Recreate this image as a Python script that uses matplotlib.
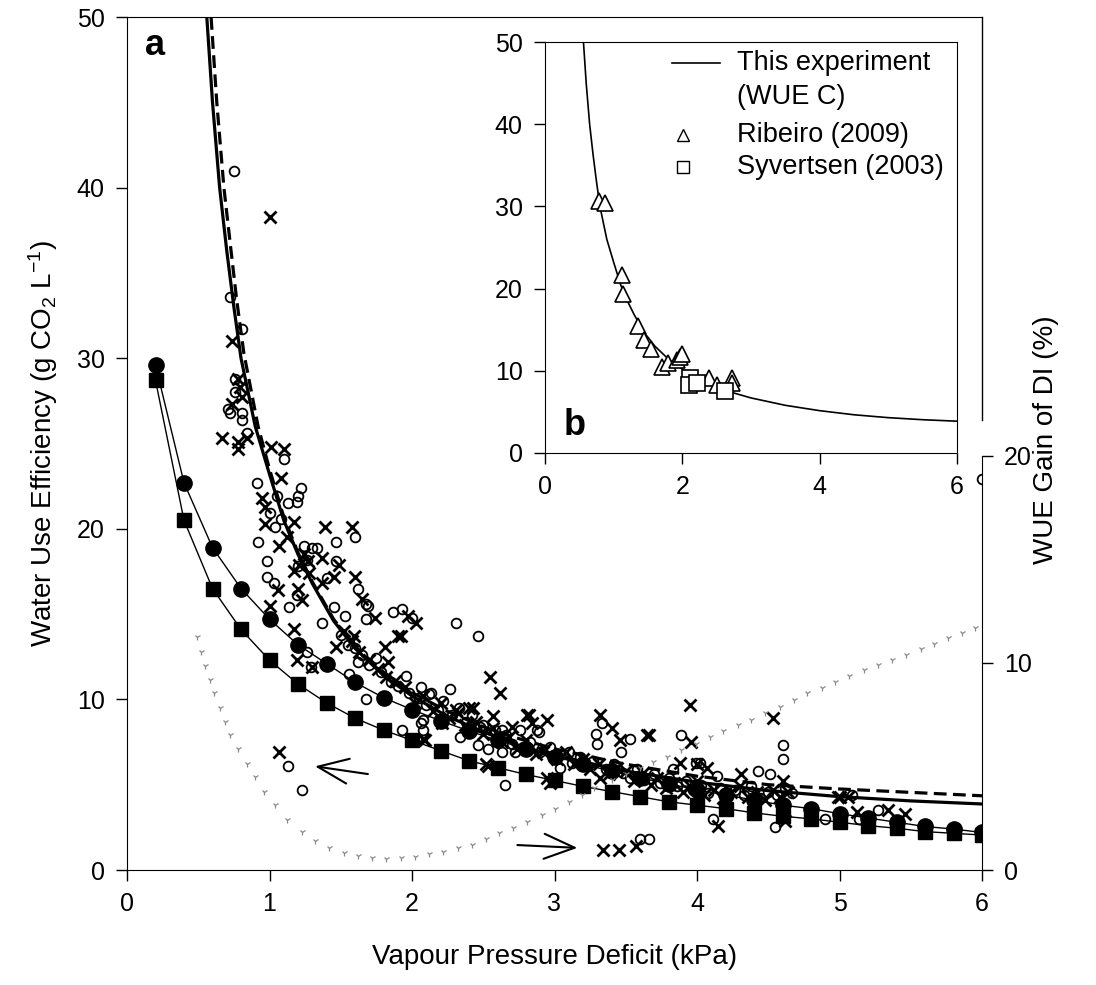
import numpy as np
import matplotlib.pyplot as plt
from matplotlib.lines import Line2D

plt.rcParams['font.family'] = ['Liberation Sans', 'DejaVu Sans']
plt.rcParams['mathtext.fontset'] = 'custom'
plt.rcParams['mathtext.rm'] = 'Liberation Sans'
plt.rcParams['mathtext.it'] = 'Liberation Sans:italic'

# --- WUE C fit (thick solid) and second fit (thick dashed)
fit_x = [0.56, 0.6, 0.65, 0.7, 0.75, 0.8, 0.9, 1.0, 1.1, 1.2, 1.3, 1.45, 1.6, 1.8,
         2.0, 2.25, 2.5, 2.75, 3.0, 3.5, 4.0, 4.5, 5.0, 5.5, 6.0]
fit_y = [50, 45, 40, 36.3, 33, 30, 26, 23.2, 20.5, 18.5, 16.8, 14.6, 13.0, 11.4,
         10.2, 9.0, 8.1, 7.3, 6.7, 5.8, 5.15, 4.65, 4.3, 4.05, 3.87]
dash_x = [0.59, 0.63, 0.68, 0.73, 0.77, 0.82, 0.92, 1.0, 1.1, 1.2, 1.3, 1.45, 1.6, 1.8,
          2.0, 2.25, 2.5, 2.75, 3.0, 3.5, 4.0, 4.5, 5.0, 5.5, 6.0]
dash_y = [50, 45, 40, 36.3, 33.4, 30.3, 26, 23.5, 20.7, 18.6, 16.9, 14.7, 13.1, 11.6,
          10.4, 9.3, 8.4, 7.7, 7.1, 6.2, 5.5, 5.0, 4.75, 4.55, 4.35]

# --- modelled series with filled markers
mod_x = [0.2, 0.4, 0.6, 0.8, 1.0, 1.2, 1.4, 1.6, 1.8, 2.0, 2.2, 2.4, 2.6, 2.8, 3.0,
         3.2, 3.4, 3.6, 3.8, 4.0, 4.2, 4.4, 4.6, 4.8, 5.0, 5.2, 5.4, 5.6, 5.8, 6.0]
dot_y = [29.6, 22.7, 18.9, 16.5, 14.7, 13.2, 12.1, 11.0, 10.1, 9.4, 8.75, 8.15, 7.6, 7.1, 6.65,
         6.2, 5.8, 5.4, 5.05, 4.7, 4.4, 4.1, 3.8, 3.6, 3.3, 3.05, 2.8, 2.55, 2.4, 2.2]
sq_y = [28.7, 20.5, 16.5, 14.1, 12.3, 10.9, 9.8, 8.9, 8.2, 7.6, 7.0, 6.4, 6.0, 5.6, 5.25,
        4.9, 4.6, 4.3, 4.0, 3.8, 3.6, 3.35, 3.15, 3.0, 2.8, 2.6, 2.45, 2.25, 2.15, 2.05]

# --- measured points, open circles
circ_x = [0.75, 0.72, 0.81, 0.76, 0.76, 0.71, 0.72, 0.81, 0.81, 0.84, 1.10, 0.91, 1.22, 1.20,
          1.19, 1.13, 1.05, 1.00, 1.08, 1.04, 0.92, 1.47, 1.60, 0.98, 0.98, 1.03, 1.14, 1.19,
          1.40, 1.47, 1.62, 1.68, 1.69, 1.68, 1.45, 1.53, 1.37, 1.87, 1.93, 2.00, 1.24, 1.30,
          1.33, 1.20, 1.26, 2.31, 2.46, 1.26, 1.29, 1.62, 1.96, 1.56, 1.68, 1.75, 2.08, 2.08,
          1.93, 2.65, 1.13, 1.23, 2.06, 2.13, 2.27, 2.34, 2.53, 2.46, 2.63, 2.88, 2.06, 2.50,
          2.58, 2.63, 2.76, 2.72, 3.04, 3.10, 3.29, 3.30, 3.33, 3.53, 3.47, 2.89, 3.89, 4.60,
          4.60, 4.11, 4.55, 4.90, 5.27, 5.09, 3.60, 3.66, 5.14, 4.43, 3.99, 4.02, 4.51, 4.14,
          3.83, 4.67, 6.0,
          1.50, 1.55, 1.60, 1.65, 1.70, 1.78, 1.85, 1.90, 1.98,
          2.05, 2.10, 2.12, 2.18, 2.22, 2.28, 2.33, 2.38, 2.42, 2.48, 2.55, 2.60, 2.66, 2.70,
          2.78, 2.83, 2.90, 2.97, 3.00, 3.06, 3.12, 3.18, 3.22, 3.27, 3.36, 3.42, 3.48, 3.53,
          3.58, 3.63, 3.70, 3.74, 3.80, 3.86, 3.92, 3.97, 4.03, 4.08, 4.16, 4.21, 4.27, 4.33,
          4.38, 4.44, 4.50, 4.56, 4.62]
circ_y = [41.0, 33.6, 31.7, 28.8, 28.0, 27.0, 26.8, 26.8, 26.4, 25.6, 24.1, 22.7, 22.4, 21.9,
          21.6, 21.5, 21.9, 20.9, 20.6, 20.1, 19.2, 19.2, 19.5, 18.1, 17.2, 16.8, 15.4, 16.1,
          17.1, 18.1, 16.5, 15.6, 15.5, 14.7, 15.4, 14.9, 14.5, 15.1, 15.3, 14.8, 19.0, 18.9,
          18.9, 17.8, 18.2, 14.5, 13.7, 12.8, 11.9, 12.2, 11.4, 11.5, 10.0, 12.4, 8.8, 8.2,
          8.2, 5.0, 6.1, 4.7, 10.7, 10.4, 10.6, 7.8, 7.1, 7.3, 8.2, 8.2, 8.6, 8.5,
          8.2, 6.9, 8.2, 6.9, 6.0, 6.9, 8.0, 7.4, 8.6, 7.7, 6.9, 8.1, 7.9, 7.3,
          6.5, 3.0, 2.5, 3.0, 3.5, 4.4, 1.8, 1.8, 3.0, 5.8, 6.3, 6.3, 5.6, 5.5,
          5.9, 4.5, 22.9,
          13.8, 13.2, 13.0, 12.6, 12.0, 11.6, 11.0, 10.8, 10.4,
          10.1, 9.7, 10.3, 9.4, 9.9, 9.1, 9.5, 8.7, 9.1, 8.4, 8.0, 7.7, 7.9, 7.4,
          7.2, 7.5, 6.9, 7.2, 6.6, 6.8, 6.3, 6.6, 6.1, 6.4, 5.9, 6.2, 5.7, 5.4,
          5.9, 5.3, 5.6, 5.1, 5.4, 4.9, 5.2, 4.7, 5.0, 4.5, 4.8, 4.3, 4.7, 4.4,
          4.9, 4.2, 4.6, 4.4, 4.8]

# --- measured points, crosses
cross_x = [1.00, 0.74, 0.78, 0.79, 0.74, 0.81, 0.67, 0.78, 0.78, 0.84, 1.01, 1.10, 1.08, 0.95,
           0.97, 0.97, 1.17, 1.39, 1.58, 1.07, 1.12, 1.37, 1.17, 1.21, 1.06, 1.00, 1.20, 1.23,
           1.37, 1.45, 1.49, 1.60, 1.65, 1.74, 1.97, 2.03, 1.17, 1.24, 1.27, 1.28, 1.90, 1.19,
           1.30, 1.47, 1.59, 1.81, 1.83, 2.55, 2.62, 2.57, 2.81, 1.07, 2.53, 2.08, 2.21, 1.92,
           2.43, 2.82, 2.95, 3.32, 3.40, 3.46, 3.65, 2.70, 2.84, 2.92, 2.52, 3.32, 2.95, 2.09,
           2.31, 2.40, 3.34, 3.45, 3.57, 3.96, 4.15, 4.31, 4.99, 5.06, 5.12, 5.34, 5.46, 4.62,
           3.88, 4.00, 2.97, 3.95, 4.53, 3.66, 4.07, 4.60, 5.00,
           1.52, 1.58, 1.63, 1.70, 1.76, 1.82, 1.88, 1.95,
           2.02, 2.08, 2.15, 2.20, 2.26, 2.32, 2.37, 2.45, 2.50, 2.57, 2.63, 2.68, 2.74, 2.80,
           2.87, 2.93, 3.02, 3.08, 3.14, 3.20, 3.25, 3.31, 3.38, 3.44, 3.50, 3.56, 3.62, 3.68,
           3.72, 3.78, 3.84, 3.90, 3.95, 4.00, 4.05, 4.12, 4.18, 4.24, 4.30, 4.36, 4.42, 4.48,
           4.53, 4.58, 4.64]
cross_y = [38.3, 31.0, 28.8, 28.3, 27.3, 27.7, 25.3, 25.1, 24.7, 25.3, 24.8, 24.7, 23.0, 21.8,
           21.3, 20.3, 20.4, 20.1, 20.1, 19.0, 19.5, 18.3, 17.5, 17.9, 16.4, 15.5, 16.5, 15.8,
           16.8, 17.2, 17.9, 17.2, 15.9, 14.8, 14.9, 14.5, 14.1, 18.5, 18.1, 17.4, 13.7, 12.3,
           11.9, 13.1, 13.7, 13.1, 12.2, 11.3, 10.4, 9.0, 9.1, 6.9, 6.1, 7.7, 8.6, 13.7,
           9.5, 9.1, 8.8, 9.1, 8.3, 7.6, 7.9, 8.4, 8.6, 6.9, 6.2, 5.4, 5.4, 7.6,
           9.4, 9.5, 1.2, 1.2, 1.4, 7.5, 2.6, 5.6, 4.3, 4.3, 3.4, 3.5, 3.3, 2.9,
           6.3, 6.2, 5.1, 9.7, 8.9, 7.9, 6.0, 5.2, 4.3,
           14.0, 13.4, 12.8, 12.3, 11.8, 11.3, 11.1, 10.7,
           9.8, 10.2, 9.3, 9.8, 8.9, 9.2, 8.5, 8.7, 8.0, 8.3, 7.5, 7.8, 7.1, 7.6,
           6.8, 7.1, 6.5, 6.9, 6.2, 6.5, 5.9, 6.2, 5.6, 6.0, 5.8, 5.2, 5.7, 5.0,
           5.4, 4.8, 5.1, 4.6, 4.9, 5.2, 4.4, 4.7, 4.2, 4.6, 4.9, 4.3, 4.6, 4.1,
           4.7, 4.3, 4.6]

# --- WUE gain of DI (%), right axis, dotted curve
gain_x = [0.49, 0.52, 0.55, 0.58, 0.61, 0.65, 0.69, 0.72, 0.78, 0.84, 0.90, 0.96, 1.04, 1.12,
          1.23, 1.32, 1.42, 1.52, 1.62, 1.72, 1.82, 1.92, 2.02, 2.12, 2.22, 2.32, 2.42, 2.52,
          2.61, 2.71, 2.81, 2.91, 3.00, 3.10, 3.19, 3.28, 3.40, 3.50, 3.60, 3.69, 3.79, 3.89,
          3.99, 4.09, 4.18, 4.29, 4.38, 4.48, 4.58, 4.68, 4.77, 4.88, 4.97, 5.07, 5.17, 5.27,
          5.37, 5.47, 5.57, 5.66, 5.76, 5.86, 5.95]
gain_y = [11.27, 10.55, 9.87, 9.18, 8.54, 7.81, 7.17, 6.52, 5.83, 5.10, 4.48, 3.78, 3.14, 2.42,
          1.85, 1.40, 1.08, 0.81, 0.66, 0.56, 0.54, 0.58, 0.62, 0.75, 0.88, 1.04, 1.21, 1.48,
          1.77, 2.01, 2.33, 2.66, 2.93, 3.29, 3.62, 3.94, 4.35, 4.65, 4.95, 5.23, 5.47, 5.80,
          6.10, 6.44, 6.73, 7.00, 7.25, 7.57, 7.89, 8.21, 8.53, 8.77, 9.10, 9.37, 9.66, 9.90,
          10.14, 10.39, 10.66, 10.92, 11.19, 11.47, 11.67]

# --- inset (b): literature data
rib_x = [0.78, 0.87, 1.12, 1.13, 1.36, 1.44, 1.55, 1.71, 1.79, 1.92, 1.97, 2.00, 2.39, 2.50, 2.72, 2.72]
rib_y = [30.6, 30.4, 21.7, 19.3, 15.5, 13.8, 12.6, 10.5, 11.0, 11.3, 11.7, 12.0, 9.1, 8.3, 9.1, 8.5]
syv_x = [2.11, 2.10, 2.22, 2.62]
syv_y = [9.1, 8.3, 8.5, 7.5]

FS = 18      # tick labels
FL = 20      # axis labels
FG = 19.5    # legend text

fig = plt.figure(figsize=(10.96, 9.85), dpi=100)
ax = fig.add_axes([127 / 1096, 1 - 870 / 985, 855 / 1096, 853 / 985])

ax.plot(circ_x, circ_y, 'o', mfc='none', mec='black', ms=7, mew=1.3, zorder=2)
ax.plot(cross_x, cross_y, 'x', color='black', ms=9, mew=2.0, zorder=2)

ax.plot(mod_x, sq_y, '-s', color='black', lw=1.0, ms=10, zorder=3)
ax.plot(mod_x, dot_y, '-o', color='black', lw=1.0, ms=11, zorder=3)
ax.plot(fit_x, fit_y, '-', color='black', lw=2.3, zorder=4)
ax.plot(dash_x, dash_y, '--', color='black', lw=2.3, dashes=(4, 2), zorder=4)

arrow = dict(arrowstyle='->,head_length=1.1,head_width=0.45', lw=1.5,
             color='black', mutation_scale=20)
ax.annotate('', xy=(1.30, 6.1), xytext=(1.71, 5.6), arrowprops=arrow)
ax.annotate('', xy=(3.18, 1.29), xytext=(2.72, 1.47), arrowprops=arrow)

ax.set_xlim(0, 6)
ax.set_ylim(0, 50)
ax.set_xticks(range(0, 7))
ax.set_yticks(range(0, 51, 10))
ax.spines['right'].set_visible(False)
ax.tick_params(direction='out', length=8, width=1, labelsize=FS, pad=8)
ax.set_xlabel('Vapour Pressure Deficit (kPa)', fontsize=FL, labelpad=20)
ax.set_ylabel('Water Use Efficiency (g CO$_2$ L$^{-1}$)', fontsize=FL, labelpad=12)
ax.text(0.033, 0.967, 'a', transform=ax.transAxes, fontsize=26, fontweight='bold',
        ha='center', va='center')

# upper part of the right frame line
fig.add_artist(Line2D([982 / 1096, 982 / 1096], [1 - 17 / 985, 1 - 420 / 985],
                      color='black', lw=1))

# right axis: WUE gain
ax2 = fig.add_axes([127 / 1096, 1 - 870 / 985, 855 / 1096, 414 / 985])
ax2.patch.set_visible(False)
ax2.plot(gain_x, gain_y, linestyle='none', marker='1', ms=4.5, mew=0.9, color='#8a8a8a')
ax2.set_xlim(0, 6)
ax2.set_ylim(0, 20)
ax2.set_yticks([0, 10, 20])
for s in ['left', 'top', 'bottom']:
    ax2.spines[s].set_visible(False)
ax2.xaxis.set_visible(False)
ax2.yaxis.tick_right()
ax2.tick_params(direction='out', length=8, width=1, labelsize=FS, pad=8)
fig.text(1046 / 1096, 1 - 440 / 985, 'WUE Gain of DI (%)', rotation=90, fontsize=FL,
         ha='center', va='center')

# inset (b)
axi = fig.add_axes([545 / 1096, 1 - 453 / 985, 412 / 1096, 411 / 985], zorder=5)
axi.set_facecolor('white')
axi.plot(fit_x, fit_y, '-', color='black', lw=1.2)
axi.plot(rib_x, rib_y, '^', mfc='white', mec='black', ms=12, mew=1.2)
axi.plot(syv_x, syv_y, 's', mfc='white', mec='black', ms=11, mew=1.2)
axi.set_xlim(0, 6)
axi.set_ylim(0, 50)
axi.set_xticks([0, 2, 4, 6])
axi.set_yticks(range(0, 51, 10))
axi.tick_params(direction='out', length=8, width=1, labelsize=FS, pad=8)
axi.text(0.073, 0.068, 'b', transform=axi.transAxes, fontsize=26, fontweight='bold',
         ha='center', va='center')

# legend drawn by hand
axi.plot([0.308, 0.425], [0.949, 0.949], color='black', lw=1.2, transform=axi.transAxes)
axi.plot([0.335], [0.774], '^', mfc='white', mec='black', ms=9, mew=1.0, transform=axi.transAxes)
axi.plot([0.335], [0.696], 's', mfc='white', mec='black', ms=8, mew=1.0, transform=axi.transAxes)
axi.text(0.466, 0.949, 'This experiment', transform=axi.transAxes, fontsize=FG, va='center')
axi.text(0.466, 0.866, '(WUE C)', transform=axi.transAxes, fontsize=FG, va='center')
axi.text(0.466, 0.774, 'Ribeiro (2009)', transform=axi.transAxes, fontsize=FG, va='center')
axi.text(0.466, 0.696, 'Syvertsen (2003)', transform=axi.transAxes, fontsize=FG, va='center')

fig.savefig('out.png', dpi=100)
